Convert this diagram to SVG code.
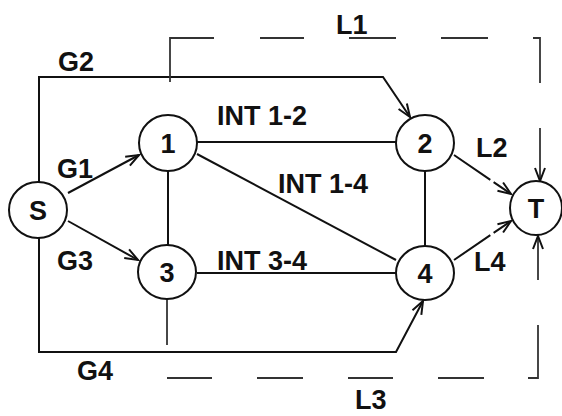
<svg xmlns="http://www.w3.org/2000/svg" width="562" height="416" viewBox="0 0 562 416">
<style>
.n{fill:#fff;stroke:#111;stroke-width:2}
.t{font-family:"Liberation Sans",Arial,sans-serif;font-weight:bold;font-size:27px;fill:#111}
.c{text-anchor:middle}
.e{fill:none;stroke:#111;stroke-width:2}
.d{fill:none;stroke:#333;stroke-width:1.8}
</style>
<defs>
<marker id="arr" viewBox="-15 -8 17 16" refX="0" refY="0" markerWidth="17" markerHeight="16" markerUnits="userSpaceOnUse" orient="auto">
<path d="M-13,-5 L0,0 L-13,5" fill="none" stroke="#111" stroke-width="2"/>
</marker>
</defs>
<rect width="562" height="416" fill="#fff"/>
<g id="connectors">
<path class="e" d="M39,182 V77 H383 L410,117" marker-end="url(#arr)"/>
<path class="e" d="M68,193 L139,155" marker-end="url(#arr)"/>
<path class="e" d="M68,221 L138,260" marker-end="url(#arr)"/>
<path class="e" d="M39,238 V352 H396 L423,301" marker-end="url(#arr)"/>
<path class="e" d="M197,142 H397"/>
<path class="e" d="M197,154 L396,260"/>
<path class="e" d="M168,171 V246"/>
<path class="e" d="M197,273 H396"/>
<path class="e" d="M425,171 V246"/>
<path class="e" d="M454,155 L511,194" stroke-dasharray="44 4" marker-end="url(#arr)"/>
<path class="e" d="M454,260 L511,221" stroke-dasharray="44 4" marker-end="url(#arr)"/>
<path class="d" d="M170,82 V38 H214"/>
<path class="d" d="M260,38 H304"/>
<path class="d" d="M349,38 H396"/>
<path class="d" d="M441,38 H488"/>
<path class="d" d="M533,38 H540 V83"/>
<path class="d" d="M540,128 V181" marker-end="url(#arr)"/>
<path class="d" d="M167,299 V345"/>
<path class="d" d="M167,378 H212"/>
<path class="d" d="M257,378 H303"/>
<path class="d" d="M348,378 H393"/>
<path class="d" d="M438,378 H484"/>
<path class="d" d="M528,378 H538 V325"/>
<path class="d" d="M538,280 V236" marker-end="url(#arr)"/>
</g>
<g id="labels">
<text class="t" x="58" y="71">G2</text>
<text class="t" x="336" y="34">L1</text>
<text class="t" x="217" y="125">INT 1-2</text>
<text class="t" x="57" y="178">G1</text>
<text class="t" x="476" y="157">L2</text>
<text class="t" x="278" y="193">INT 1-4</text>
<text class="t" x="57" y="270">G3</text>
<text class="t" x="217" y="270">INT 3-4</text>
<text class="t" x="474" y="271">L4</text>
<text class="t" x="77" y="380">G4</text>
<text class="t" x="355" y="409">L3</text>
</g>
<g id="node-S"><ellipse class="n" cx="38" cy="210" rx="29" ry="28"/><text class="t c" x="38" y="220">S</text></g>
<g id="node-1"><ellipse class="n" cx="168" cy="143" rx="29" ry="28"/><text class="t c" x="168" y="153">1</text></g>
<g id="node-2"><ellipse class="n" cx="425" cy="143" rx="29" ry="28"/><text class="t c" x="425" y="153">2</text></g>
<g id="node-3"><ellipse class="n" cx="167" cy="272" rx="29" ry="27"/><text class="t c" x="167" y="282">3</text></g>
<g id="node-4"><ellipse class="n" cx="425" cy="273" rx="29" ry="27"/><text class="t c" x="425" y="283">4</text></g>
<g id="node-T"><ellipse class="n" cx="536" cy="208" rx="26" ry="27"/><text class="t c" x="536" y="218">T</text></g>
</svg>
